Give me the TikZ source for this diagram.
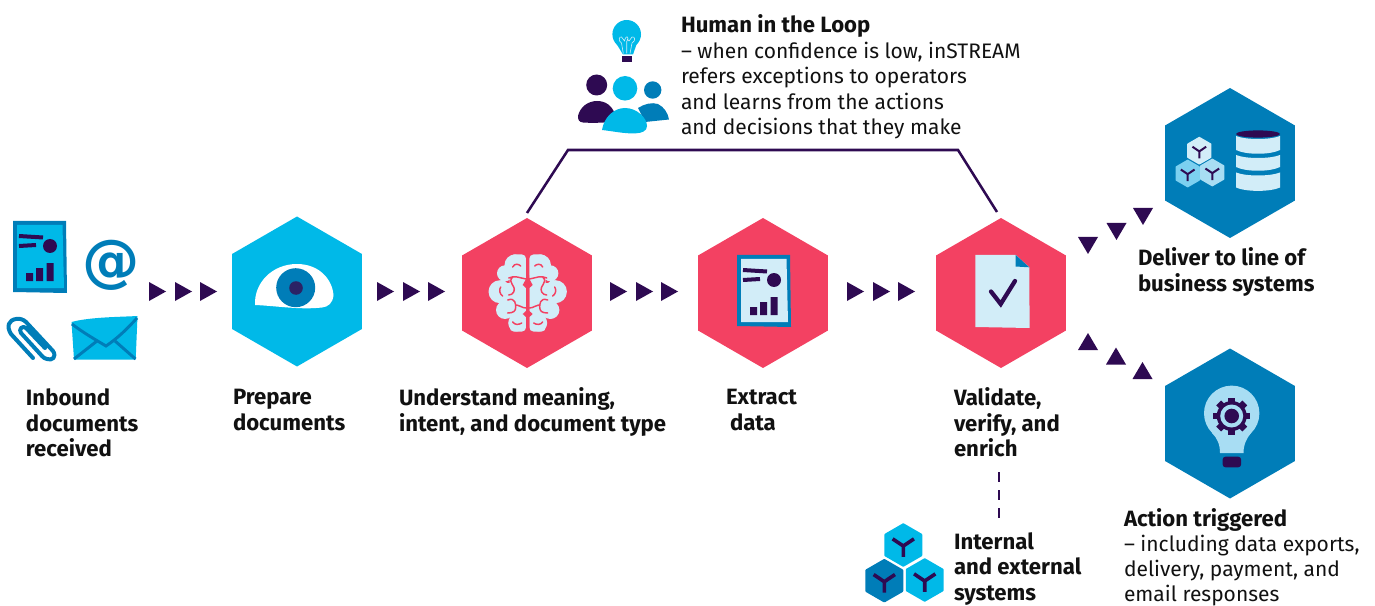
\documentclass[tikz,border=0pt]{standalone}
\usepackage{fontspec}
\setmainfont{Fira Sans}[BoldFeatures={Scale=1.055}]
\newfontfamily\atfont{DejaVu Sans}
\usetikzlibrary{shapes.geometric}
\definecolor{hcyan}{HTML}{00B9E8}
\definecolor{hpink}{HTML}{F34162}
\definecolor{hblue}{HTML}{007DB8}
\definecolor{hdark}{HTML}{2E0A52}
\definecolor{hpale}{HTML}{D2EDF8}
\definecolor{hmid}{HTML}{A8DDF3}
\definecolor{hsky}{HTML}{7CD0F0}
\definecolor{hiris}{HTML}{2B2265}
\definecolor{htext}{HTML}{111111}
\tikzset{
  hexnode/.style={regular polygon,regular polygon sides=6,shape border rotate=30,minimum size=112.5pt,inner sep=0pt,outer sep=0pt,fill=#1},
  lab/.style={anchor=north west,inner sep=0pt,outer sep=0pt,align=left,text=htext,font=\fontsize{15.75}{19.1}\selectfont},
  link/.style={draw=hdark,line width=1.9pt},
}
\newcommand{\triR}[2]{\fill[hdark] (#1,#2-9.5)--(#1,#2+9.5)--(#1+17,#2)--cycle;}
\newcommand{\triD}[2]{\fill[hdark] (#1-10,#2)--(#1+10,#2)--(#1,#2+17)--cycle;}
\newcommand{\triU}[2]{\fill[hdark] (#1-10,#2)--(#1+10,#2)--(#1,#2-17)--cycle;}
% x,y,r,colour,Y colour,line width
\newcommand{\cubeicon}[6]{\begin{scope}[shift={(#1,#2)},scale=#3]
  \fill[#4,draw=#4,line join=round,line width=#6*0.5pt] (0,-1)--(.866,-.5)--(.866,.5)--(0,1)--(-.866,.5)--(-.866,-.5)--cycle;
  \draw[#5,line width=#6*0.75pt,line join=round] (0,.58)--(0,.05) (-.52,-.3)--(0,.05)--(.52,-.3);
\end{scope}}
\newcommand{\docicon}[3]{\begin{scope}[shift={(#1,#2)}]
  \fill[hblue] (13,221)--(66,221)--(67,293)--(13,292)--cycle;
  \fill[#3] (17,225)--(62.5,225)--(64,288)--(17,288)--cycle;
  \draw[hdark,line width=3pt] (19,236)--(43,237.5) (19,246)--(36,245);
  \fill[hdark] (50,246) circle[radius=7];
  \fill[hdark] (26,273) rectangle (33,281) (36,268) rectangle (43,281) (46.5,263) rectangle (53.5,281);
\end{scope}}
\begin{document}
\begin{tikzpicture}[x=0.75pt,y=-0.75pt]
\useasboundingbox (0,0) rectangle (1375,606);
% hexagons
\node[hexnode=hcyan] (prepare) at (297,291.5) {};
\node[hexnode=hpink] (brain) at (527,293) {};
\node[hexnode=hpink] (extract) at (763,293) {};
\node[hexnode=hpink] (validate) at (1001,293) {};
\node[hexnode=hblue] (deliver) at (1230,163) {};
\node[hexnode=hblue] (action) at (1230,423.5) {};
% arrowheads
\triR{149}{291.5}\triR{175}{291.5}\triR{200}{291.5}
\triR{377}{291.5}\triR{403}{291.5}\triR{428}{291.5}
\triR{610}{291.5}\triR{636}{291.5}\triR{661}{291.5}
\triR{847}{291.5}\triR{873}{291.5}\triR{898}{291.5}
\triD{1143}{208}\triD{1116.5}{223}\triD{1088}{237}
\triU{1088}{350}\triU{1116}{364.5}\triU{1142.5}{379}
% human loop connector
\coordinate (loopA) at (568,150);
\coordinate (loopB) at (958,150);
\draw[link,line join=miter] ([shift={(0,-5)}]brain.north) -- (loopA) -- (loopB) -- ([shift={(-4,-6)}]validate.north);
% dashed link to systems
\coordinate (dashA) at (999,472);
\coordinate (dashB) at (999,520);
\draw[draw=hdark,line width=2.2pt,dash pattern=on 7.5pt off 6pt] (dashA) -- (dashB);
% inbound icons
\docicon{0}{0}{hcyan}
\node[inner sep=0pt,text=hblue,font=\atfont\bfseries\fontsize{43}{43}\selectfont] (at) at (111.5,265) {@};
\draw[hblue,line width=3pt,line cap=round,line join=round] (33,358) -- (11,334) .. controls (6,326) and (9,320) .. (16,319) .. controls (20,318) and (24,320) .. (26,322) -- (53,351) .. controls (57,357) and (52,361) .. (47,359) .. controls (45,359) and (43,357) .. (42,356) -- (21,333) .. controls (18,329) and (23,325) .. (26,328) -- (45,348);
\fill[hcyan] (71.5,322) .. controls (90,317) and (120,317) .. (137.5,316) -- (135.7,359.5) -- (74,359.5) -- cycle;
\draw[hblue,line width=2.2pt] (72,324) .. controls (82,332) and (96,340) .. (106,346) .. controls (118,338) and (128,328) .. (137,318);
\draw[hblue,line width=2.2pt] (74,359) -- (97,341) (135.5,359) -- (115,341);
% eye
\fill[white] (255,305) .. controls (254,283) and (272,264) .. (297,264) .. controls (318,264) and (332,278) .. (333.5,295) .. controls (333,303) and (328,307) .. (322,307.5) .. controls (300,310) and (278,306) .. (255,305) -- cycle;
\fill[hblue] (295.7,287.7) circle[radius=19.5];
\fill[hiris] (296,288) circle[radius=6.8];
% brain
\begin{scope}[shift={(527.7,293)}]
\foreach \s in {1,-1}{
\begin{scope}[xscale=\s]
  \fill[hpale] (-12.7,-28) circle[radius=10.5] (-22.7,-19.7) circle[radius=8] (-27.7,-1.3) circle[radius=11.5] (-22.7,17) circle[radius=9] (-11,30) circle[radius=8.5];
  \fill[hpale,rounded corners=3pt] (-1.7,-38.5) rectangle (-18,38.5);
  \fill[hpale] (-26,-10) rectangle (-16,12);
  \draw[hpink,line width=1.1pt,line cap=round] (-1.7,-14) .. controls (-8,-15) and (-13,-18) .. (-19,-15) (-15,-16) .. controls (-21,-10) and (-11,-8) .. (-14,-1) .. controls (-15,1) and (-17,2) .. (-19,2);
  \draw[hpink,line width=1.1pt,line cap=round] (-1.7,15) .. controls (-6,15) and (-8,12) .. (-11,12) (-20,7) .. controls (-12,4) and (-12,12) .. (-12,14) .. controls (-12,18) and (-14,20) .. (-20,20);
  \draw[hpink,line width=1.1pt,line cap=round] (-15,-26) .. controls (-13,-30) and (-9,-29) .. (-7,-27) (-27,-6) .. controls (-29,-3) and (-28,1) .. (-25,3) (-15,29) .. controls (-13,32) and (-9,32) .. (-6,30);
\end{scope}}
\fill[hpink] (0,-30) -- (1.7,-14) -- (5,-8) -- (1.7,-5) -- (1.7,18) -- (5,21) -- (1.7,24) -- (1.7,38) -- (-1.7,38) -- (-1.7,24) -- (-5,21) -- (-1.7,18) -- (-1.7,-5) -- (-5,-8) -- (-1.7,-14) -- cycle;
\fill[hpink] (-1.7,-40) rectangle (1.7,-14);
\end{scope}
% extract doc
\docicon{724}{34}{hpale}
% validate doc
\fill[hpale] (975.3,255) -- (1015.7,255) -- (1029.3,267.3) -- (1029.6,328) -- (975.3,327) -- cycle;
\fill[hblue] (1015.7,255) -- (1029.3,267.3) -- (1015.7,266.5) -- cycle;
\draw[hdark,line width=3.2pt,line cap=round,line join=miter] (991,291.5) -- (1000.7,304) -- (1015,281);
% top bulb
\fill[hcyan] (626.7,34.3) circle[radius=14.3];
\fill[hcyan] (616,43) -- (637,43) -- (633,54.5) -- (623,54.5) -- cycle;
\fill[hdark] (622.3,56) rectangle (632,62);
\draw[hpale,line width=0.45pt] (623.3,53.5) -- (621.5,43) .. controls (618,41) and (619,36) .. (621.5,37) -- (624.5,41) .. controls (625,37) and (628,35) .. (628,39) -- (627,41) (630,53.5) -- (632,43) .. controls (636,41) and (635,36) .. (632,37) -- (629,41) -- (627,39) (626.7,53.5) -- (626.7,41);
% people
\fill[hdark] (596.7,85) circle[radius=10.5];
\fill[hdark] (578,116) .. controls (580,107) and (588,101) .. (597,101) .. controls (606,101) and (612,106) .. (615,114) -- (610,122) .. controls (600,123) and (590,123) .. (583,122.5) .. controls (579,122) and (578,120) .. (578,116) -- cycle;
\fill[hblue] (652.7,90) circle[radius=8.7];
\fill[hblue] (638,108) .. controls (644,104) and (652,102) .. (658,104) .. controls (664,107) and (668,113) .. (669,119.5) -- (645,122) -- cycle;
\fill[hcyan] (625,88.3) circle[radius=12.3];
\fill[hcyan] (602,130) .. controls (604,117) and (614,108) .. (625,108) .. controls (637,108) and (647,118) .. (647,126) .. controls (647,131) and (642,133) .. (636,133.3) .. controls (625,134) and (612,131) .. (602,130) -- cycle;
% deliver: cubes and database
\cubeicon{1199.3}{150.7}{13.2}{hpale}{hdark}{2}
\cubeicon{1187.7}{173.5}{13.2}{hsky}{hdark}{2}
\cubeicon{1212.3}{172.5}{13.2}{hmid}{hdark}{2}
\fill[hpale] (1236,136) .. controls (1246,140) and (1270,140) .. (1280,136) -- (1280,150) .. controls (1270,155) and (1246,155) .. (1236,150) -- cycle;
\fill[hpale] (1236,155) .. controls (1246,159) and (1270,159) .. (1280,155) -- (1280,167) .. controls (1270,172) and (1246,172) .. (1236,167) -- cycle;
\fill[hpale] (1236,172.5) .. controls (1246,176.5) and (1270,176.5) .. (1280,172.5) -- (1280,187.5) .. controls (1270,192) and (1246,192) .. (1236,187.5) -- cycle;
\fill[hdark] (1258,134) ellipse[x radius=22,y radius=3.6];
% action bulb
\fill[hmid] (1231.7,413.3) circle[radius=27.7];
\fill[hmid] (1212,433) .. controls (1217,438) and (1220,444) .. (1220,453) -- (1243.5,453) .. controls (1243.5,444) and (1247,438) .. (1251,433) -- cycle;
\fill[hdark,rounded corners=2pt] (1222.7,456.7) rectangle (1241,467.3);
\begin{scope}[shift={(1231.7,416)}]
\foreach \a in {0,45,...,315}{\fill[hdark,rotate=\a] (-3.4,-18.5) rectangle (3.4,-12);}
\fill[hdark] (0,0) circle[radius=15];
\fill[hmid] (0,0) circle[radius=11.5];
\fill[hdark] (0,0) circle[radius=7.3];
\end{scope}
% systems cubes
\cubeicon{903.3}{545}{20.5}{hcyan}{hdark}{3.6}
\cubeicon{884.3}{580.7}{20.5}{hblue}{hdark}{3.6}
\cubeicon{924.7}{580}{20.5}{hcyan}{hdark}{3.6}
% labels
\node[lab] (t1) at (26,389) {\textbf{Inbound}\\\textbf{documents}\\\textbf{received}};
\node[lab] (t2) at (233,389.5) {\textbf{Prepare}\\\textbf{documents}};
\node[lab] (t3) at (399,388) {\textbf{Understand meaning,}\\\textbf{intent, and document type}};
\node[lab] (t4) at (726,389.5) {\textbf{Extract}\\\hspace*{3pt}\textbf{data}};
\node[lab] (t5) at (954,388) {\textbf{Validate,}\\\textbf{verify, and}\\\textbf{enrich}};
\node[lab] (t6) at (954,532.5) {\textbf{Internal}\\\textbf{and external}\\\textbf{systems}};
\node[lab] (t7) at (1138,248) {\textbf{Deliver to line of}\\\textbf{business systems}};
\node[lab,font=\fontsize{15.75}{18.7}\selectfont] (t8) at (1124,508.5) {\textbf{Action triggered}\\– including data exports,\\delivery, payment, and\\email responses};
\node[lab] (t9) at (681,15) {\textbf{Human in the Loop}\\– when confidence is low, inSTREAM\\refers exceptions to operators\\and learns from the actions\\and decisions that they make};
\end{tikzpicture}
\end{document}
